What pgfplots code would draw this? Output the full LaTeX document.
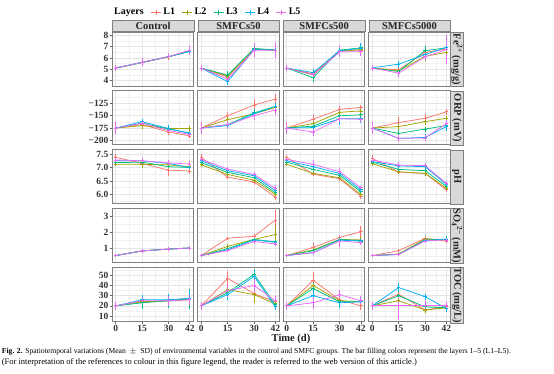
\documentclass[border=0pt]{standalone}
\usepackage{fontspec}
\setmainfont{Liberation Serif}
\usepackage{graphicx}
\usepackage{pgfplots}
\usepackage{pgfplotstable}
\pgfplotsset{compat=1.18}
\definecolor{c1}{HTML}{F8766D}
\definecolor{c2}{HTML}{A3A500}
\definecolor{c3}{HTML}{00BF7D}
\definecolor{c4}{HTML}{00B0F6}
\definecolor{c5}{HTML}{E76BF3}

% ---------------- data: x, mean and SD for layers L1..L5 ----------------
\pgfplotstableread{
x y1 e1 y2 e2 y3 e3 y4 e4 y5 e5
0 5.10 0.25 5.10 0.25 5.10 0.25 5.12 0.25 5.12 0.30
15 5.60 0.30 5.60 0.30 5.62 0.30 5.60 0.30 5.62 0.35
30 6.10 0.25 6.10 0.25 6.12 0.25 6.12 0.30 6.12 0.30
42 6.65 0.30 6.62 0.30 6.60 0.30 6.58 0.30 6.70 0.40
}\FeA
\pgfplotstableread{
x y1 e1 y2 e2 y3 e3 y4 e4 y5 e5
0 5.10 0.30 5.10 0.30 5.10 0.30 5.10 0.30 5.12 0.30
15 4.30 0.30 4.40 0.30 4.48 0.35 3.90 0.30 4.10 0.30
30 6.75 0.50 6.80 0.50 6.85 0.50 6.75 0.50 6.70 0.60
42 6.70 0.60 6.70 0.50 6.72 0.50 6.70 0.50 6.68 0.70
}\FeB
\pgfplotstableread{
x y1 e1 y2 e2 y3 e3 y4 e4 y5 e5
0 5.10 0.25 5.10 0.25 5.10 0.25 5.10 0.25 5.12 0.30
15 4.60 0.30 4.50 0.30 4.25 0.35 4.70 0.35 4.50 0.30
30 6.65 0.30 6.60 0.30 6.70 0.30 6.65 0.30 6.55 0.50
42 6.70 0.30 6.75 0.30 6.90 0.30 6.85 0.50 6.55 0.40
}\FeC
\pgfplotstableread{
x y1 e1 y2 e2 y3 e3 y4 e4 y5 e5
0 5.10 0.25 5.10 0.25 5.10 0.25 5.12 0.25 5.12 0.30
15 4.95 0.30 4.85 0.30 4.80 0.30 5.45 0.30 4.65 0.35
30 6.50 0.60 6.15 0.40 6.65 0.40 6.30 0.40 6.10 0.30
42 6.80 0.30 6.50 0.40 6.90 0.30 6.95 0.30 6.75 1.30
}\FeD
\pgfplotstableread{
x y1 e1 y2 e2 y3 e3 y4 e4 y5 e5
0 -175 10 -175 10 -175 10 -175 10 -175 12
15 -168 6 -170 7 -165 6 -162 6 -165 6
30 -183 6 -176 6 -177 6 -176 7 -180 5
42 -191 5 -176 5 -185 5 -186 5 -188 5
}\ORPA
\pgfplotstableread{
x y1 e1 y2 e2 y3 e3 y4 e4 y5 e5
0 -175 10 -175 10 -175 10 -175 10 -175 12
15 -150 7 -158 8 -168 6 -170 6 -168 8
30 -128 12 -146 8 -144 8 -146 8 -150 9
42 -116 10 -133 9 -131 8 -131 8 -138 10
}\ORPB
\pgfplotstableread{
x y1 e1 y2 e2 y3 e3 y4 e4 y5 e5
0 -175 10 -175 10 -175 10 -175 10 -175 12
15 -157 9 -166 7 -171 7 -174 7 -183 9
30 -137 6 -143 7 -150 7 -156 12 -156 7
42 -133 6 -140 10 -148 6 -156 8 -157 6
}\ORPC
\pgfplotstableread{
x y1 e1 y2 e2 y3 e3 y4 e4 y5 e5
0 -175 10 -175 10 -175 10 -175 10 -175 12
15 -164 12 -172 8 -186 7 -196 7 -196 7
30 -155 8 -162 6 -177 5 -194 6 -195 6
42 -142 6 -155 5 -170 6 -172 9 -166 9
}\ORPD
\pgfplotstableread{
x y1 e1 y2 e2 y3 e3 y4 e4 y5 e5
0 7.38 0.12 7.12 0.08 7.18 0.08 7.25 0.08 7.28 0.08
15 7.15 0.10 7.12 0.12 7.20 0.15 7.25 0.10 7.25 0.10
30 6.90 0.20 7.10 0.10 7.03 0.10 7.15 0.12 7.17 0.10
42 6.87 0.10 7.03 0.08 7.00 0.10 7.00 0.10 7.13 0.12
}\pHA
\pgfplotstableread{
x y1 e1 y2 e2 y3 e3 y4 e4 y5 e5
0 7.38 0.12 7.10 0.08 7.18 0.08 7.25 0.08 7.30 0.10
15 6.64 0.08 6.74 0.08 6.82 0.08 6.88 0.08 6.94 0.08
30 6.46 0.10 6.53 0.08 6.62 0.08 6.69 0.08 6.74 0.10
42 5.90 0.10 6.00 0.10 6.06 0.10 6.14 0.10 6.22 0.12
}\pHB
\pgfplotstableread{
x y1 e1 y2 e2 y3 e3 y4 e4 y5 e5
0 7.38 0.10 7.12 0.08 7.20 0.08 7.25 0.08 7.30 0.12
15 6.75 0.08 6.78 0.08 6.93 0.08 7.03 0.10 7.12 0.15
30 6.58 0.08 6.62 0.08 6.71 0.08 6.78 0.08 6.84 0.15
42 5.94 0.12 6.00 0.08 6.10 0.08 6.17 0.08 6.25 0.08
}\pHC
\pgfplotstableread{
x y1 e1 y2 e2 y3 e3 y4 e4 y5 e5
0 7.34 0.12 7.14 0.08 7.20 0.08 7.22 0.08 7.28 0.10
15 6.83 0.08 6.84 0.08 6.93 0.08 7.06 0.08 7.09 0.12
30 6.78 0.08 6.78 0.08 6.88 0.08 7.03 0.08 7.07 0.10
42 6.17 0.08 6.23 0.08 6.30 0.08 6.37 0.08 6.41 0.08
}\pHD
\pgfplotstableread{
x y1 e1 y2 e2 y3 e3 y4 e4 y5 e5
0 0.55 0.08 0.55 0.08 0.55 0.08 0.55 0.08 0.55 0.08
15 0.84 0.08 0.84 0.08 0.84 0.08 0.84 0.08 0.84 0.08
30 0.95 0.10 0.95 0.10 0.95 0.10 0.95 0.10 0.95 0.10
42 1.02 0.10 1.02 0.10 1.02 0.10 1.02 0.10 1.02 0.10
}\SOA
\pgfplotstableread{
x y1 e1 y2 e2 y3 e3 y4 e4 y5 e5
0 0.55 0.08 0.55 0.08 0.55 0.08 0.55 0.08 0.55 0.08
15 1.62 0.10 1.12 0.12 0.98 0.10 0.90 0.10 0.86 0.10
30 1.75 0.10 1.55 0.15 1.55 0.10 1.52 0.20 1.42 0.15
42 2.75 0.60 1.85 0.50 1.40 0.12 1.37 0.12 1.27 0.15
}\SOB
\pgfplotstableread{
x y1 e1 y2 e2 y3 e3 y4 e4 y5 e5
0 0.55 0.08 0.55 0.08 0.55 0.08 0.55 0.08 0.55 0.08
15 1.05 0.25 0.90 0.20 0.85 0.15 0.73 0.12 0.73 0.12
30 1.68 0.15 1.55 0.15 1.55 0.15 1.50 0.15 1.46 0.35
42 2.02 0.35 1.52 0.15 1.47 0.15 1.45 0.12 1.35 0.15
}\SOC
\pgfplotstableread{
x y1 e1 y2 e2 y3 e3 y4 e4 y5 e5
0 0.55 0.08 0.55 0.08 0.55 0.08 0.55 0.08 0.55 0.08
15 0.85 0.12 0.65 0.08 0.63 0.08 0.62 0.08 0.62 0.08
30 1.62 0.12 1.58 0.10 1.52 0.10 1.47 0.10 1.46 0.10
42 1.45 0.15 1.52 0.20 1.55 0.20 1.58 0.15 1.52 0.15
}\SOD
\pgfplotstableread{
x y1 e1 y2 e2 y3 e3 y4 e4 y5 e5
0 20 3 20 3 20 3 20 3 20 4
15 24 5 24 5 23 6 26 5 25 4
30 25 5 25 5 25 7 26 6 25 5
42 26 5 27 6 27 10 27.5 7 26 5
}\TOCA
\pgfplotstableread{
x y1 e1 y2 e2 y3 e3 y4 e4 y5 e5
0 20 3 20 3 20 3 20 3 20 4
15 47 7 36 5 33 5 31 5 35 6
30 32 6 31 8 51 5 49 6 40 6
42 24 4 22 3 21 3 19 3 25 5
}\TOCB
\pgfplotstableread{
x y1 e1 y2 e2 y3 e3 y4 e4 y5 e5
0 20 3 20 3 20 3 20 3 20 4
15 45 8 40 6 37 5 30 6 23 6
30 26 5 25 4 24 4 23 5 31 5
42 20 4 24 3 24 3 24 3 25 5
}\TOCC
\pgfplotstableread{
x y1 e1 y2 e2 y3 e3 y4 e4 y5 e5
0 20 4 20 4 20 4 20 4 20 4
15 31.5 5 25 5 30 5 38 4 20 14
30 16 3 16 3 19 3 29 3 20 5
42 19 4 18 3 18 3 17.5 4 20 4
}\TOCD

\pgfplotsset{
  s/.style={color=#1, line width=0.75pt, mark=+, mark size=1.7pt, forget plot,
    error bars/.cd, y dir=both, y explicit, error mark=none,
    error bar style={line width=0.7pt}},
  legimg/.style={legend image code/.code={
      \draw[#1, line width=0.7pt] (0pt,0pt) -- (10pt,0pt);
      \draw[#1, line width=0.7pt] (5pt,-2.5pt) -- (5pt,2.5pt);}},
  panel/.style={
    scale only axis, width=81.5pt, height=54pt,
    xmin=-2.1, xmax=44.1,
    xtick={0,15,30,42}, minor xtick={7.5,22.5,36},
    grid=both,
    major grid style={color=black!10, line width=0.6pt},
    minor grid style={color=black!6, line width=0.35pt},
    axis line style={draw=black!50, line width=0.75pt},
    tick align=outside, major tick length=2.5pt, minor tick length=0pt,
    tick style={black!60, line width=0.6pt},
    xtick pos=bottom, ytick pos=left,
    ticklabel style={font=\bfseries\fontsize{9.5}{10}\selectfont, text=black!80},
    yticklabel style={inner sep=1pt},
    xticklabel style={inner sep=1.5pt},
    xticklabels={}, yticklabels={},
    xtick style={draw=none}, ytick style={draw=none},
  },
  showx/.style={xticklabels={0,15,30,42}, xtick style={draw=black!60}},
  showy/.style={ytick style={draw=black!60}},
  rFe/.style={ymin=3.51, ymax=8.31, ytick={4,5,6,7,8}, minor ytick={3.5,4.5,5.5,6.5,7.5}},
  rORP/.style={ymin=-209, ymax=-99, ytick={-200,-175,-150,-125}, minor ytick={-212.5,-187.5,-162.5,-137.5,-112.5}},
  rpH/.style={ymin=5.66, ymax=7.67, ytick={6,6.5,7,7.5}, minor ytick={5.75,6.25,6.75,7.25}},
  rSO/.style={ymin=0.136, ymax=3.48, ytick={1,2,3}, minor ytick={0.5,1.5,2.5}},
  rTOC/.style={ymin=5.1, ymax=58.2, ytick={10,20,30,40,50}, minor ytick={15,25,35,45,55}},
  lFe/.style={showy, yticklabels={4,5,6,7,8}},
  lORP/.style={showy, yticklabels={−200,−175,−150,−125}},
  lpH/.style={showy, yticklabels={6.0,6.5,7.0,7.5}},
  lSO/.style={showy, yticklabels={1,2,3}},
  lTOC/.style={showy, yticklabels={10,20,30,40,50}},
}

\newcommand\panel[6]{%
  \begin{axis}[panel, #4, at={(#1pt,-#2pt)}, anchor=north west, #5]
    #6
    \addplot[s=c1] table[x=x, y=y1, y error=e1] {#3};
    \addplot[s=c2] table[x=x, y=y2, y error=e2] {#3};
    \addplot[s=c3] table[x=x, y=y3, y error=e3] {#3};
    \addplot[s=c4] table[x=x, y=y4, y error=e4] {#3};
    \addplot[s=c5] table[x=x, y=y5, y error=e5] {#3};
  \end{axis}}

\tikzset{
  strip/.style={draw=black!50, fill=black!15, line width=0.6pt, inner sep=0pt,
    font=\bfseries\fontsize{10.5}{11}\selectfont, text=black!85},
}

\begin{document}
\begin{tikzpicture}
\path[use as bounding box] (0pt,0pt) rectangle (554pt,-373pt);

% row 1: Fe
\panel{112}{32}{\FeA}{rFe}{lFe,
  legend columns=-1,
  legend style={at={(axis description cs:0,1)}, anchor=west, yshift=20pt, xshift=0pt,
    draw=none, fill=none, inner sep=0pt,
    font=\bfseries\fontsize{10}{12}\selectfont,
    /tikz/every even column/.append style={column sep=5pt}},
  legend cell align=left}{%
  \addlegendimage{empty legend}\addlegendentry{Layers}
  \addlegendimage{legimg=c1}\addlegendentry{L1}
  \addlegendimage{legimg=c2}\addlegendentry{L2}
  \addlegendimage{legimg=c3}\addlegendentry{L3}
  \addlegendimage{legimg=c4}\addlegendentry{L4}
  \addlegendimage{legimg=c5}\addlegendentry{L5}}
\panel{197.5}{32}{\FeB}{rFe}{}{}
\panel{283}{32}{\FeC}{rFe}{}{}
\panel{368.5}{32}{\FeD}{rFe}{}{}
% row 2: ORP
\panel{112}{90.75}{\ORPA}{rORP}{lORP}{}
\panel{197.5}{90.75}{\ORPB}{rORP}{}{}
\panel{283}{90.75}{\ORPC}{rORP}{}{}
\panel{368.5}{90.75}{\ORPD}{rORP}{}{}
% row 3: pH
\panel{112}{149.5}{\pHA}{rpH}{lpH}{}
\panel{197.5}{149.5}{\pHB}{rpH}{}{}
\panel{283}{149.5}{\pHC}{rpH}{}{}
\panel{368.5}{149.5}{\pHD}{rpH}{}{}
% row 4: SO4
\panel{112}{208.25}{\SOA}{rSO}{lSO}{}
\panel{197.5}{208.25}{\SOB}{rSO}{}{}
\panel{283}{208.25}{\SOC}{rSO}{}{}
\panel{368.5}{208.25}{\SOD}{rSO}{}{}
% row 5: TOC
\panel{112}{267}{\TOCA}{rTOC}{lTOC,showx}{}
\panel{197.5}{267}{\TOCB}{rTOC}{showx}{}
\panel{283}{267}{\TOCC}{rTOC}{showx}{}
\panel{368.5}{267}{\TOCD}{rTOC}{showx}{}

% top strips
\node[strip, minimum width=81.5pt, minimum height=11pt, anchor=south west] at (112pt,-32pt) {Control};
\node[strip, minimum width=81.5pt, minimum height=11pt, anchor=south west] at (197.5pt,-32pt) {SMFCs50};
\node[strip, minimum width=81.5pt, minimum height=11pt, anchor=south west] at (283pt,-32pt) {SMFCs500};
\node[strip, minimum width=81.5pt, minimum height=11pt, anchor=south west] at (368.5pt,-32pt) {SMFCs5000};
% right strips
\node[strip, minimum width=54pt, minimum height=13pt, rotate=-90, anchor=south west] at (450pt,-32pt) {Fe\textsuperscript{2+} (mg/g)};
\node[strip, minimum width=54pt, minimum height=13pt, rotate=-90, anchor=south west] at (450pt,-90.75pt) {ORP (mV)};
\node[strip, minimum width=54pt, minimum height=13pt, rotate=-90, anchor=south west] at (450pt,-149.5pt) {pH};
\node[strip, minimum width=54pt, minimum height=13pt, rotate=-90, anchor=south west] at (450pt,-208.25pt) {SO\textsubscript{4}\textsuperscript{2−} (mM)};
\node[strip, minimum width=54pt, minimum height=13pt, rotate=-90, anchor=south west] at (450pt,-267pt) {TOC (mg/L)};

% axis title
\node[font=\bfseries\fontsize{10.5}{12}\selectfont, text=black!90] at (291pt,-339pt) {Time (d)};

% caption
\node[anchor=west, inner sep=0pt] at (1.7pt,-351.7pt) {\resizebox{509pt}{!}{\fontsize{7}{8}\selectfont\textbf{Fig. 2.} Spatiotemporal variations (Mean \ $\pm$ \ SD) of environmental variables in the control and SMFC groups. The bar filling colors represent the layers 1–5 (L1–L5).}};
\node[anchor=west, inner sep=0pt] at (1.7pt,-362.3pt) {\resizebox{415pt}{!}{\fontsize{7}{8}\selectfont (For interpretation of the references to colour in this figure legend, the reader is referred to the web version of this article.)}};
\end{tikzpicture}
\end{document}
